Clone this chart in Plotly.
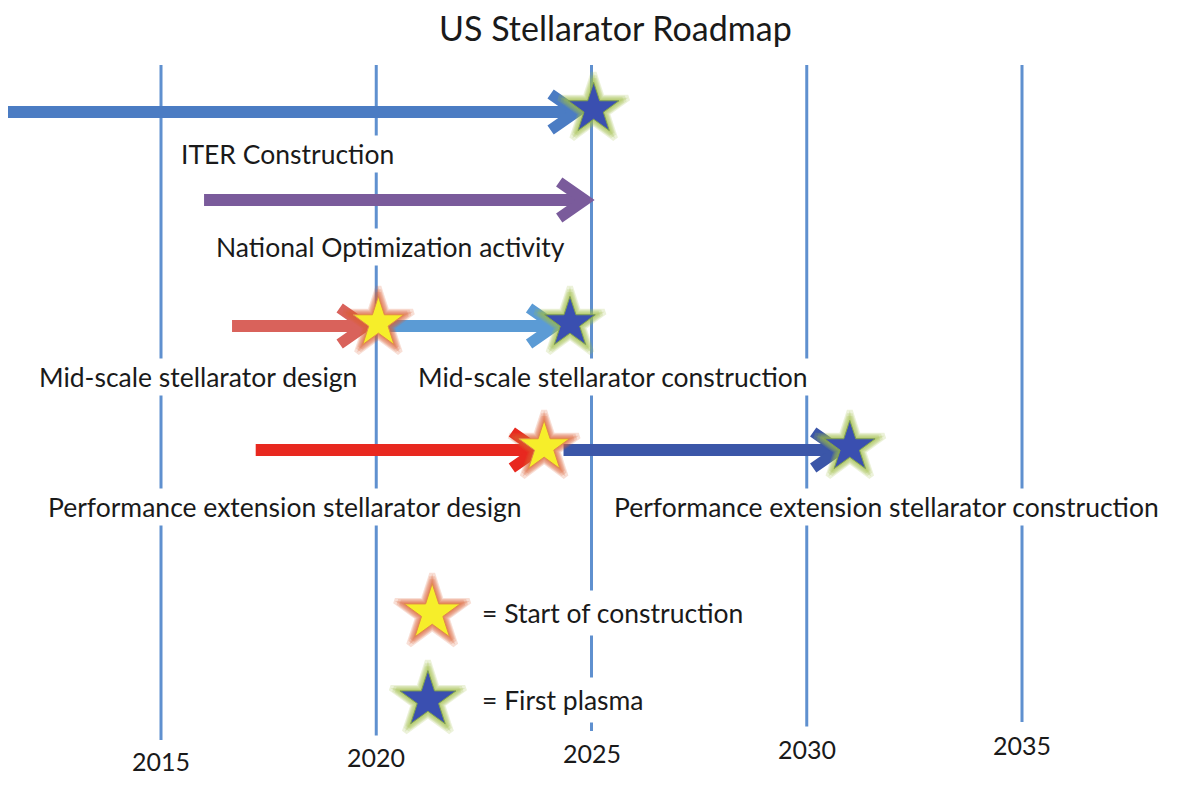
import plotly.graph_objects as go

# Timeline data
years = [2015, 2020, 2025, 2030, 2035]

# arrow segments: start year, end year (tip), lane
seg_start = [2011.2, 2016.0, 2016.65, 2020.25, 2017.2, 2024.35]
seg_end = [2024.65, 2024.85, 2019.75, 2024.15, 2023.75, 2030.75]
seg_lane = [0, 1, 2, 2, 3, 3]

# milestones
star_year = [2025.05, 2020.05, 2024.5, 2023.9, 2031.0]
star_lane = [0, 2, 2, 3, 3]
star_kind = ['plasma', 'start', 'plasma', 'start', 'plasma']

labels = ['ITER Construction', 'National Optimization activity',
          'Mid-scale stellarator design', 'Mid-scale stellarator construction',
          'Performance extension stellarator design',
          'Performance extension stellarator construction']
label_x = [2015.4, 2016.2, 2012.1, 2020.9, 2012.3, 2025.45]
label_lane = [0, 1, 2, 2, 3, 3]

legend_text = ['= Start of construction', '= First plasma']
legend_kind = ['start', 'plasma']

# styling / layout (pixel positions are page pixels; the page body has an 8px margin)
seg_colors = ['#4b7cc3', '#7a5b9b', '#d9625b', '#5b9bd5', '#e8281f', '#3b56a8']
lane_y = [112, 200, 326, 450]
label_dy = [42, 47, 51, 57]
legend_y = [613, 700]
star_style = {
    'start': dict(fill='#f6ee2a', glow='rgba(220,95,50,0.2)', edge='#e08a4a'),
    'plasma': dict(fill='#3a4fb0', glow='rgba(160,190,70,0.2)', edge='#7f9f50'),
}
line_color = '#5f90cf'
font = 'Lato, Carlito, Calibri, sans-serif'
text_color = '#1a1a1a'
body_margin = 8
fig_w, fig_h = 1177 - 2 * body_margin, 785 - 2 * body_margin
px_per_year = 43.05
x0 = 2015 - (161 - body_margin) / px_per_year
x1 = x0 + fig_w / px_per_year

fig = go.Figure()

# vertical year lines (bottom slightly tilted, as in the scanned slide)
for yv in years:
    bottom = 740 - (yv - 2015) * 0.9
    fig.add_trace(go.Scatter(
        x=[yv, yv], y=[65, bottom], mode='lines',
        line=dict(color=line_color, width=3),
        hoverinfo='skip', showlegend=False
    ))
    fig.add_annotation(
        x=yv, y=761 - (yv - 2015) * 0.8, text=str(yv), showarrow=False,
        font=dict(size=25, color=text_color, family=font), xanchor='center', yanchor='middle'
    )

# arrows: thick shaft plus chevron head
head_dx = 0.6
head_dy = 18
for s, e, lane, c in zip(seg_start, seg_end, seg_lane, seg_colors):
    y = lane_y[lane]
    fig.add_trace(go.Scatter(
        x=[s, e], y=[y, y], mode='lines',
        line=dict(color=c, width=12),
        hoverinfo='skip', showlegend=False
    ))
    fig.add_trace(go.Scatter(
        x=[e - head_dx, e, e - head_dx], y=[y - head_dy, y, y + head_dy], mode='lines',
        line=dict(color=c, width=11),
        hoverinfo='skip', showlegend=False
    ))


def add_star(x, y, kind, size=38):
    st = star_style[kind]
    # soft glow from a few stacked translucent stars
    for extra in (14, 9, 5):
        fig.add_trace(go.Scatter(
            x=[x], y=[y], mode='markers',
            marker=dict(symbol='star', size=size + extra, color=st['glow'],
                        line=dict(color=st['glow'], width=6)),
            hoverinfo='skip', showlegend=False
        ))
    fig.add_trace(go.Scatter(
        x=[x], y=[y], mode='markers',
        marker=dict(symbol='star', size=size, color=st['fill'], line=dict(color=st['edge'], width=1)),
        hoverinfo='skip', showlegend=False
    ))


for yr, lane, kind in zip(star_year, star_lane, star_kind):
    add_star(yr, lane_y[lane] - 3, kind)

# text labels (white boxes hide the year lines behind them)
for txt, lx, lane in zip(labels, label_x, label_lane):
    fig.add_annotation(
        x=lx, y=lane_y[lane] + label_dy[lane], text=txt, showarrow=False,
        xanchor='left', yanchor='middle', bgcolor='white', borderpad=2,
        font=dict(size=26.5, color=text_color, family=font)
    )

# legend block
for txt, kind, ly, sx in zip(legend_text, legend_kind, legend_y, [2021.3, 2021.2]):
    add_star(sx, ly, kind, size=42)
    fig.add_annotation(
        x=2022.3, y=ly, text=txt, showarrow=False,
        xanchor='left', yanchor='middle', bgcolor='white', borderpad=6,
        font=dict(size=26.5, color=text_color, family=font)
    )

# title as an annotation so it sits a little below the page edge
fig.add_annotation(
    x=(615 - body_margin) / fig_w, y=27, xref='paper', yref='y',
    text='US Stellarator Roadmap', showarrow=False, xanchor='center', yanchor='middle',
    font=dict(size=34, color=text_color, family=font)
)

fig.update_layout(
    width=fig_w, height=fig_h,
    margin=dict(l=0, r=0, t=0, b=0),
    plot_bgcolor='white', paper_bgcolor='white',
    xaxis=dict(range=[x0, x1], visible=False, fixedrange=True),
    yaxis=dict(range=[body_margin + fig_h, body_margin], visible=False, fixedrange=True),
    showlegend=False
)

fig.write_html("out.html")
